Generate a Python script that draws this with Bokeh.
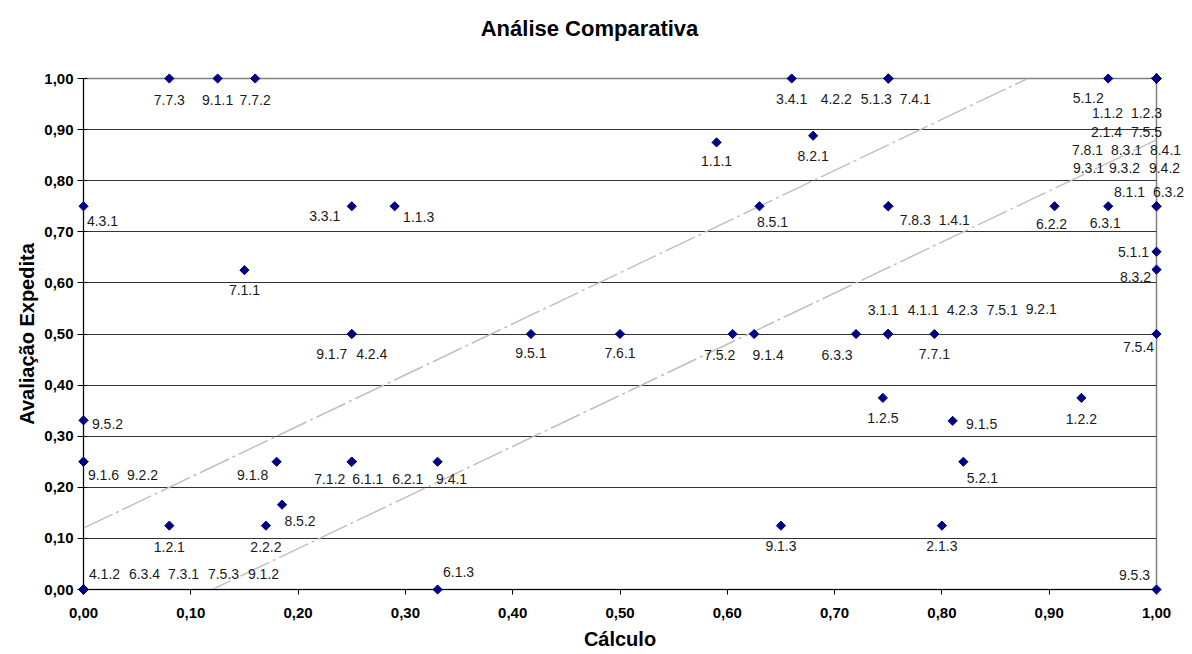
import math
from bokeh.plotting import figure
from bokeh.models import (ColumnDataSource, FixedTicker,
                          CustomJSTickFormatter, Range1d)
from bokeh.core.properties import value
from bokeh.embed import file_html
from bokeh.resources import INLINE

# ---------------- data ----------------
codes = ["7.7.3", "9.1.1", "7.7.2", "3.4.1", "4.2.2", "5.1.3", "7.4.1", "5.1.2",
         "1.1.2", "1.2.3", "2.1.4", "7.5.5", "7.8.1", "8.3.1", "8.4.1", "9.3.1",
         "9.3.2", "9.4.2", "1.1.1", "8.2.1", "4.3.1", "3.3.1", "1.1.3", "8.5.1",
         "7.8.3", "1.4.1", "6.2.2", "6.3.1", "8.1.1", "6.3.2", "7.1.1", "5.1.1",
         "8.3.2", "9.1.7", "4.2.4", "9.5.1", "7.6.1", "7.5.2", "9.1.4", "6.3.3",
         "3.1.1", "4.1.1", "4.2.3", "7.5.1", "9.2.1", "7.7.1", "7.5.4", "1.2.5",
         "1.2.2", "9.1.5", "9.5.2", "9.1.6", "9.2.2", "9.1.8", "7.1.2", "6.1.1",
         "6.2.1", "9.4.1", "5.2.1", "8.5.2", "1.2.1", "2.2.2", "9.1.3", "2.1.3",
         "4.1.2", "6.3.4", "7.3.1", "7.5.3", "9.1.2", "6.1.3", "9.5.3"]
calculo = [0.08, 0.125, 0.16, 0.66, 0.75, 0.75, 0.75, 0.955,
           1.0, 1.0, 1.0, 1.0, 1.0, 1.0, 1.0, 1.0,
           1.0, 1.0, 0.59, 0.68, 0.0, 0.25, 0.29, 0.63,
           0.75, 0.75, 0.905, 0.955, 1.0, 1.0, 0.15, 1.0,
           1.0, 0.25, 0.25, 0.417, 0.5, 0.605, 0.625, 0.72,
           0.75, 0.75, 0.75, 0.75, 0.75, 0.793, 1.0, 0.745,
           0.93, 0.81, 0.0, 0.0, 0.0, 0.18, 0.25, 0.25,
           0.25, 0.33, 0.82, 0.185, 0.08, 0.17, 0.65, 0.80,
           0.0, 0.0, 0.0, 0.0, 0.0, 0.33, 1.0]
expedita = [1.0, 1.0, 1.0, 1.0, 1.0, 1.0, 1.0, 1.0,
            1.0, 1.0, 1.0, 1.0, 1.0, 1.0, 1.0, 1.0,
            1.0, 1.0, 0.875, 0.888, 0.75, 0.75, 0.75, 0.75,
            0.75, 0.75, 0.75, 0.75, 0.75, 0.75, 0.625, 0.661,
            0.626, 0.5, 0.5, 0.5, 0.5, 0.5, 0.5, 0.5,
            0.5, 0.5, 0.5, 0.5, 0.5, 0.5, 0.5, 0.375,
            0.375, 0.33, 0.331, 0.25, 0.25, 0.25, 0.25, 0.25,
            0.25, 0.25, 0.25, 0.166, 0.125, 0.125, 0.125, 0.125,
            0.0, 0.0, 0.0, 0.0, 0.0, 0.0, 0.0]

# reference band lines (y = x + 0.12 and y = x - 0.12)
upper_x = [0.0, 0.88]
upper_y = [0.12, 1.0]
lower_x = [0.11, 1.0]
lower_y = [-0.01, 0.88]

tick_values = [0.0, 0.1, 0.2, 0.3, 0.4, 0.5, 0.6, 0.7, 0.8, 0.9, 1.0]

title_text = "Análise Comparativa"
x_title = "Cálculo"
y_title = "Avaliação Expedita"

# ---------------- label layout (pixel offsets: right, down) ----------------
label_dx = [0, 0, 0, 0, -52, -12, 27, -20,
            -49, -10, -50, -10, -69, -30, 9, -68,
            -32, 8, 0, 0, 19, -27, 24, 13,
            27, 66, -3, -3, -27, 12, 0, -23,
            -21, -20, 20, 0, 0, -13, 14, -19,
            -5, 35, 74, 114, 153, 0, -18, 0,
            0, 29, 24, 20, 59, -24, -22, 16,
            56, 14, 19, 18, 0, 0, 0, 0,
            21, 61, 100, 140, 180, 21, -22]
label_dy = [21, 21, 21, 20, 20, 20, 20, 19,
            34, 34, 53, 53, 71, 71, 71, 89,
            89, 89, 19, 20, 15, 10, 11, 16,
            14, 14, 18, 17, -14, -14, 20, 0,
            7, 20, 20, 19, 19, 21, 21, 21,
            -24, -24, -24, -24, -25, 20, 13, 20,
            21, 3, 4, 13, 13, 13, 17, 17,
            17, 17, 16, 16, 21, 21, 20, 20,
            -16, -16, -16, -16, -16, -18, -15]

src = ColumnDataSource(dict(x=calculo, y=expedita, code=codes,
                            dx=label_dx, dy=label_dy))

FONT = "Liberation Sans"

p = figure(frame_width=1073, frame_height=511,
           x_range=Range1d(0, 1), y_range=Range1d(0, 1),
           min_border_left=83, min_border_right=36,
           min_border_top=78, min_border_bottom=65,
           output_backend="svg", toolbar_location=None)

p.background_fill_color = "white"
p.border_fill_color = "white"
p.outline_line_color = "#808080"
p.outline_line_width = 1.5

fmt = CustomJSTickFormatter(code="return tick.toFixed(2).replace('.', ',');")
for ax in (p.xaxis[0], p.yaxis[0]):
    ax.ticker = FixedTicker(ticks=tick_values)
    ax.formatter = fmt
    ax.major_label_text_font = FONT
    ax.major_label_text_font_size = "15px"
    ax.major_label_text_font_style = "bold"
    ax.major_label_text_color = "black"
    ax.axis_label_text_font = FONT
    ax.axis_label_text_font_size = "20px"
    ax.axis_label_text_font_style = "bold"
    ax.axis_label_text_color = "black"
    ax.axis_line_color = "black"
    ax.major_tick_line_color = "black"
    ax.minor_tick_line_color = None

p.xaxis.axis_label = x_title
p.xaxis.major_tick_out = 5
p.xaxis.major_tick_in = 0
p.xaxis.major_label_standoff = 13
p.xaxis.axis_label_standoff = 7

p.yaxis.axis_label = y_title
p.yaxis.major_tick_out = 6
p.yaxis.major_tick_in = 4
p.yaxis.major_label_standoff = 4
p.yaxis.axis_label_standoff = 3

p.xgrid.grid_line_color = None
p.ygrid.ticker = FixedTicker(ticks=tick_values[1:-1])
p.ygrid.grid_line_color = "#333333"
p.ygrid.grid_line_width = 1

p.line(upper_x, upper_y, line_color="#c0c0c0", line_width=1.5, line_dash="32 4 3 4")
p.line(lower_x, lower_y, line_color="#c0c0c0", line_width=1.5, line_dash="32 4 3 4")

p.scatter("x", "y", source=src, marker="square", angle=math.pi / 4, size=6.5,
          fill_color="#000080", line_color="#000080", level="overlay")

# point labels as a glyph on the overlay level (not clipped at the frame)
p.text("x", "y", text="code", x_offset="dx", y_offset="dy", source=src,
       text_align="center", text_baseline="middle",
       text_font=value(FONT), text_font_size="14px",
       text_color="#1a1a1a", level="overlay")

# chart title, placed above the frame
p.text(x=[0.4716], y=[1.0], text=[title_text], x_offset=0, y_offset=-50,
       text_align="center", text_baseline="alphabetic",
       text_font=value(FONT), text_font_size="22px", text_font_style="bold",
       text_color="black", level="overlay")

open("out.html", "w").write(file_html(p, INLINE))
